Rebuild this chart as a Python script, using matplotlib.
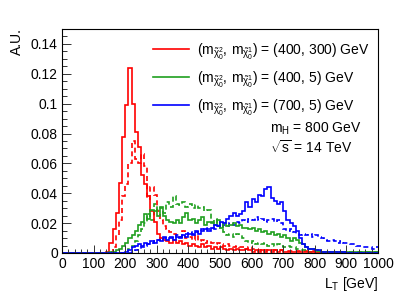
import numpy as np
import matplotlib
matplotlib.use("Agg")
import matplotlib.pyplot as plt
from matplotlib.ticker import MultipleLocator, FuncFormatter
from matplotlib.lines import Line2D

plt.rcParams['font.family'] = ['Liberation Sans', 'DejaVu Sans']
plt.rcParams['mathtext.fontset'] = 'custom'
plt.rcParams['mathtext.rm'] = 'Liberation Sans'
plt.rcParams['mathtext.it'] = 'Liberation Sans'
plt.rcParams['mathtext.bf'] = 'Liberation Sans:bold'

# 10 GeV bins from 0 to 1000 GeV; values listed from 140 GeV onward (zeros below)
bin_edges = list(range(0, 1010, 10))
start_bin = 14  # 140 GeV

red_solid = [0.0005, 0.007, 0.016, 0.027, 0.047, 0.078, 0.099, 0.124, 0.100, 0.081,
             0.071, 0.052, 0.046, 0.038, 0.028, 0.021, 0.013, 0.010, 0.009, 0.008,
             0.007, 0.009, 0.007, 0.008, 0.006, 0.007, 0.005, 0.006, 0.005, 0.004,
             0.006, 0.004, 0.005, 0.003, 0.004, 0.003, 0.004, 0.003, 0.002, 0.003,
             0.002, 0.003, 0.002, 0.002, 0.003, 0.002, 0.001, 0.002, 0.001, 0.002,
             0.001, 0.002, 0.001, 0.002, 0.001, 0.002, 0.001, 0.001, 0.001, 0.001,
             0.001, 0.001, 0.001, 0.001, 0.001, 0.001, 0.0003, 0.0003, 0.0003, 0.0,
             0.0, 0.0, 0.0, 0.0, 0.0, 0.0, 0.0, 0.0, 0.0, 0.0,
             0.0, 0.0, 0.0, 0.0, 0.0, 0.0]
red_dashed = [0.0, 0.001, 0.004, 0.012, 0.022, 0.038, 0.046, 0.060, 0.075, 0.063,
              0.060, 0.066, 0.058, 0.036, 0.044, 0.039, 0.028, 0.022, 0.018, 0.016,
              0.014, 0.013, 0.012, 0.011, 0.015, 0.010, 0.011, 0.009, 0.012, 0.008,
              0.009, 0.007, 0.008, 0.007, 0.006, 0.007, 0.006, 0.005, 0.006, 0.005,
              0.004, 0.005, 0.004, 0.004, 0.003, 0.004, 0.003, 0.003, 0.002, 0.003,
              0.002, 0.002, 0.002, 0.002, 0.002, 0.002, 0.0015, 0.0015, 0.0015, 0.0015,
              0.0015, 0.0015, 0.0015, 0.0015, 0.0015, 0.0015, 0.001, 0.001, 0.001, 0.001,
              0.001, 0.0003, 0.0003, 0.0003, 0.0003, 0.0003, 0.0003, 0.0, 0.0, 0.0,
              0.0, 0.0, 0.0, 0.0, 0.0, 0.0]
green_solid = [0.0003, 0.0005, 0.001, 0.002, 0.003, 0.005, 0.007, 0.010, 0.012, 0.015,
               0.019, 0.021, 0.026, 0.023, 0.029, 0.028, 0.025, 0.030, 0.025, 0.022,
               0.021, 0.020, 0.022, 0.020, 0.024, 0.027, 0.022, 0.023, 0.020, 0.022,
               0.024, 0.019, 0.021, 0.020, 0.019, 0.022, 0.017, 0.020, 0.018, 0.019,
               0.020, 0.018, 0.019, 0.017, 0.017, 0.016, 0.017, 0.015, 0.016, 0.014,
               0.015, 0.013, 0.014, 0.012, 0.013, 0.011, 0.012, 0.010, 0.008, 0.010,
               0.009, 0.007, 0.006, 0.004, 0.003, 0.003, 0.002, 0.0015, 0.001, 0.001,
               0.001, 0.001, 0.001, 0.001, 0.001, 0.001, 0.0005, 0.0005, 0.0005, 0.0005,
               0.0005, 0.0005, 0.0005, 0.0005, 0.0005, 0.0005]
green_dashed = [0.0, 0.0, 0.0, 0.0, 0.0, 0.0, 0.001, 0.003, 0.005, 0.008,
                0.012, 0.016, 0.020, 0.026, 0.022, 0.033, 0.029, 0.031, 0.027, 0.034,
                0.031, 0.038, 0.033, 0.032, 0.034, 0.031, 0.033, 0.030, 0.032, 0.030,
                0.031, 0.028, 0.029, 0.021, 0.023, 0.019, 0.017, 0.014, 0.012, 0.013,
                0.011, 0.013, 0.012, 0.010, 0.008, 0.007, 0.008, 0.006, 0.007, 0.006,
                0.007, 0.005, 0.006, 0.005, 0.006, 0.005, 0.004, 0.005, 0.004, 0.004,
                0.003, 0.003, 0.002, 0.002, 0.001, 0.001, 0.001, 0.001, 0.001, 0.001,
                0.001, 0.0005, 0.0005, 0.0005, 0.0005, 0.0005, 0.0005, 0.0005, 0.0005, 0.0005,
                0.0005, 0.0005, 0.0005, 0.0005, 0.0005, 0.0005]
blue_solid = [0.0, 0.0, 0.0, 0.0, 0.0, 0.0, 0.001, 0.002, 0.004, 0.005,
              0.006, 0.005, 0.007, 0.006, 0.008, 0.007, 0.009, 0.008, 0.010, 0.009,
              0.010, 0.009, 0.011, 0.010, 0.012, 0.011, 0.013, 0.012, 0.014, 0.013,
              0.015, 0.016, 0.015, 0.017, 0.019, 0.018, 0.021, 0.020, 0.023, 0.025,
              0.027, 0.025, 0.026, 0.028, 0.034, 0.031, 0.036, 0.034, 0.039, 0.038,
              0.043, 0.044, 0.037, 0.035, 0.033, 0.034, 0.028, 0.022, 0.020, 0.018,
              0.015, 0.010, 0.006, 0.004, 0.003, 0.003, 0.002, 0.002, 0.001, 0.001,
              0.0008, 0.0008, 0.0008, 0.0008, 0.0008, 0.0008, 0.0003, 0.0003, 0.0003, 0.0003,
              0.0003, 0.0003, 0.0003, 0.0003, 0.0003, 0.0003]
blue_dashed = [0.0, 0.0, 0.0, 0.0, 0.0, 0.0, 0.0, 0.0, 0.001, 0.002,
               0.003, 0.004, 0.005, 0.006, 0.007, 0.008, 0.009, 0.010, 0.011, 0.010,
               0.011, 0.010, 0.012, 0.011, 0.012, 0.013, 0.014, 0.013, 0.015, 0.014,
               0.016, 0.017, 0.016, 0.017, 0.016, 0.018, 0.017, 0.019, 0.018, 0.020,
               0.019, 0.021, 0.020, 0.022, 0.021, 0.023, 0.022, 0.024, 0.022, 0.023,
               0.021, 0.022, 0.023, 0.021, 0.022, 0.020, 0.016, 0.015, 0.016, 0.014,
               0.013, 0.012, 0.013, 0.012, 0.013, 0.011, 0.012, 0.011, 0.010, 0.009,
               0.008, 0.009, 0.008, 0.007, 0.008, 0.007, 0.007, 0.006, 0.006, 0.005,
               0.005, 0.004, 0.004, 0.004, 0.003, 0.004]

legend_labels = [r'$(\mathregular{m}_{\tilde{\chi}^{2}_{0}},\,\mathregular{m}_{\tilde{\chi}^{1}_{0}})$ = (400, 300) GeV',
                 r'$(\mathregular{m}_{\tilde{\chi}^{2}_{0}},\,\mathregular{m}_{\tilde{\chi}^{1}_{0}})$ = (400, 5) GeV',
                 r'$(\mathregular{m}_{\tilde{\chi}^{2}_{0}},\,\mathregular{m}_{\tilde{\chi}^{1}_{0}})$ = (700, 5) GeV']
colors = ['#ff0000', '#1f9f1f', '#0000ff']

def full(vals):
    return np.array([0.0] * start_bin + list(vals))

W, H = 415, 298
fig = plt.figure(figsize=(W / 100, H / 100), dpi=100)
ax = fig.add_axes([62 / W, (H - 253) / H, (378 - 62) / W, (253 - 29) / H])

edges = np.array(bin_edges, dtype=float)
series = [(red_solid, red_dashed), (green_solid, green_dashed), (blue_solid, blue_dashed)]
for (s, d), c in zip(series, colors):
    ax.stairs(full(d), edges, baseline=None, color=c, lw=1.2, ls=(0, (3, 2)))
for (s, d), c in zip(series, colors):
    ax.stairs(full(s), edges, baseline=None, color=c, lw=1.2)

ax.set_xlim(0, 1000)
ax.set_ylim(0, 0.15)
ax.xaxis.set_major_locator(MultipleLocator(100))
ax.xaxis.set_minor_locator(MultipleLocator(20))
ax.yaxis.set_major_locator(MultipleLocator(0.02))
ax.yaxis.set_minor_locator(MultipleLocator(0.005))

def yfmt(v, p):
    if abs(v) < 1e-9:
        return '0'
    return ('%.2f' % v).rstrip('0')
ax.yaxis.set_major_formatter(FuncFormatter(yfmt))

ax.tick_params(axis='both', which='both', direction='in', top=False, right=False,
               labelsize=10, width=0.7, color='#333333')
ax.tick_params(axis='y', which='major', length=6.5, pad=3)
ax.tick_params(axis='y', which='minor', length=3.5)
ax.tick_params(axis='x', which='major', length=5.5, pad=3)
ax.tick_params(axis='x', which='minor', length=2.8)
for sp in ax.spines.values():
    sp.set_linewidth(0.8)

# legend drawn manually
line_y = [49, 77, 105]
for yy, c, lab in zip(line_y, colors, legend_labels):
    fig.add_artist(Line2D([153 / W, 189 / W], [1 - yy / H, 1 - yy / H],
                          transform=fig.transFigure, color=c, lw=1.2))
    fig.text(197 / W, 1 - (yy + 3) / H, lab, ha='left', va='center', fontsize=10)

fig.text(270 / W, 1 - 129 / H, r'm$_\mathregular{H}$ = 800 GeV', ha='left', va='center', fontsize=10)
fig.text(270 / W, 1 - 148 / H, r'$\sqrt{\mathregular{s}}$ = 14 TeV', ha='left', va='center', fontsize=10)

fig.text(17 / W, 1 - 28 / H, 'A.U.', rotation=90, ha='center', va='top', fontsize=10)
fig.text(378 / W, 1 - 284 / H, r'L$_\mathregular{T}$ [GeV]', ha='right', va='center', fontsize=10)

fig.savefig('out.png', dpi=100)
